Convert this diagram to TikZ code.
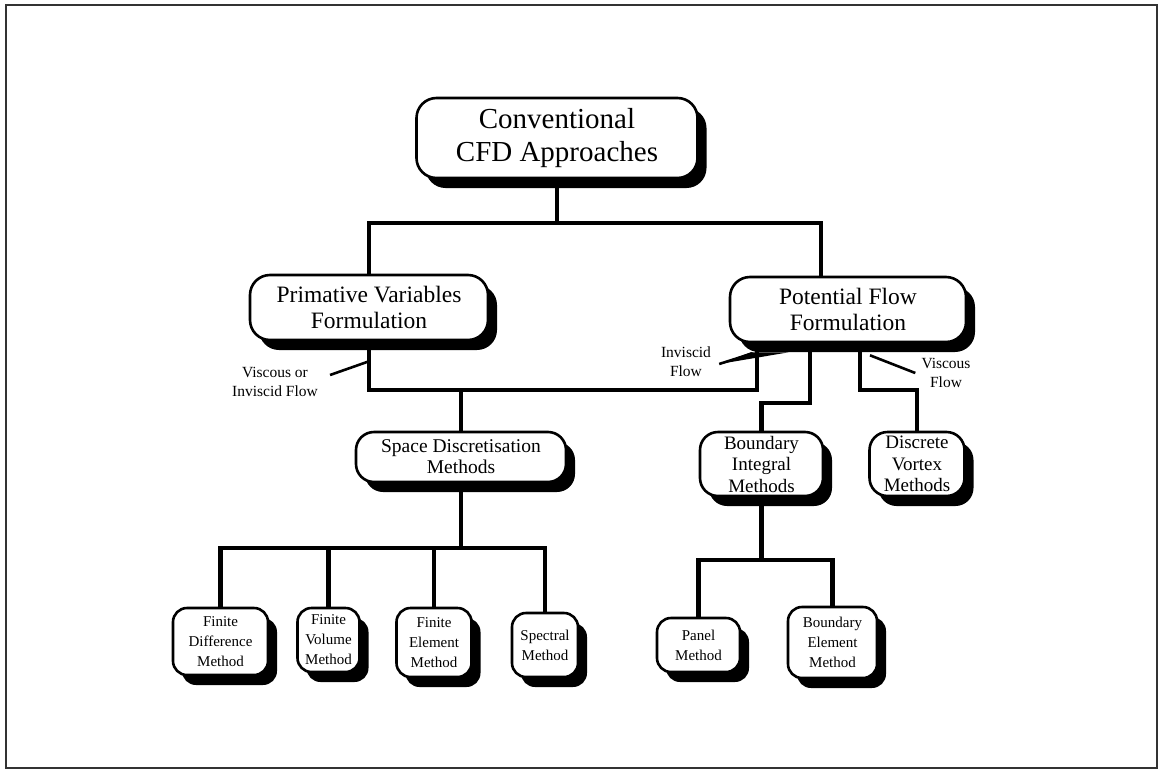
\documentclass[tikz,border=0pt]{standalone}
\usepackage{fontspec}
\setmainfont{Liberation Serif}
\usetikzlibrary{shadows,calc}
\begin{document}
\begin{tikzpicture}[x=1pt,y=-1pt,
  box/.style={draw=black, line width=2.6pt, rounded corners=#1, fill=white,
    align=center, inner sep=0pt,
    drop shadow={shadow xshift=9pt, shadow yshift=-10pt, opacity=1, fill=black}},
  box/.default=16pt,
  bigtxt/.style={font=\fontsize{29}{33}\selectfont},
  midtxt/.style={font=\fontsize{23.5}{26}\selectfont},
  smalltxt/.style={font=\fontsize{19}{21.5}\selectfont},
  leaftxt/.style={font=\fontsize{15}{20}\selectfont},
  conn/.style={line width=4.2pt, line cap=butt, line join=miter},
  pointer/.style={line width=2.6pt},
  lbl/.style={align=center, inner sep=0pt, font=\fontsize{15.5}{19}\selectfont},
]
\useasboundingbox (0,0) rectangle (1160,774);
\draw[line width=2.5pt, black!80] (6,5) rectangle (1157,768);

% boxes
\node[box=20pt, bigtxt, minimum width=281pt, minimum height=80pt] (top) at (557,138) {Conventional\\CFD Approaches};
\node[box=20pt, midtxt, minimum width=238pt, minimum height=65pt] (prim) at (369,307.5) {Primative Variables\\Formulation};
\node[box=20pt, midtxt, minimum width=236pt, minimum height=65pt] (pot) at (848,309.5) {Potential Flow\\Formulation};
\node[box=18pt, font=\fontsize{19.5}{21}\selectfont, minimum width=210pt, minimum height=50pt] (space) at (461,457) {Space Discretisation\\Methods};
\node[box=18pt, smalltxt, minimum width=123pt, minimum height=64pt] (bim) at (761.5,464) {Boundary\\Integral\\Methods};
\node[box=18pt, smalltxt, minimum width=95pt, minimum height=64pt] (dvm) at (917,464) {Discrete\\Vortex\\Methods};

\node[box=14pt, leaftxt, minimum width=95pt, minimum height=67pt] (fdm) at (220.5,641.5) {Finite\\Difference\\Method};
\node[box=14pt, leaftxt, minimum width=62pt, minimum height=64pt] (fvm) at (328.5,640) {Finite\\Volume\\Method};
\node[box=14pt, leaftxt, minimum width=75pt, minimum height=69pt] (fem) at (434,642.5) {Finite\\Element\\Method};
\node[box=14pt, leaftxt, minimum width=66pt, minimum height=64pt] (spm) at (545,645) {Spectral\\Method};
\node[box=14pt, leaftxt, minimum width=83pt, minimum height=54pt] (pan) at (698.5,645) {Panel\\Method};
\node[box=14pt, leaftxt, minimum width=89pt, minimum height=71pt] (bem) at (832.5,642.5) {Boundary\\Element\\Method};

% levels of the horizontal bars
\coordinate (y1) at (0,223);
\coordinate (y2) at (0,390);
\coordinate (y3) at (0,403);
\coordinate (y5) at (0,548);
\coordinate (y6) at (0,560);

% attachment points off the box centres
\coordinate (pn)  at ([xshift=-27pt]pot.north);
\coordinate (ps1) at ([xshift=-91pt]pot.south);
\coordinate (ps2) at ([xshift=-38pt]pot.south);
\coordinate (ps3) at ([xshift=12pt]pot.south);

% connectors
\draw[conn] (top.south) -- (top.south |- y1);
\draw[conn] (prim.north) -- (prim.north |- y1) -- (pn |- y1) -- (pn);

\draw[conn] (prim.south) -- (prim.south |- y2) -- (ps1 |- y2) -- (ps1);
\draw[conn] (space.north) -- (space.north |- y2);

\draw[conn] (ps2) -- (ps2 |- y3) -- (bim.north |- y3) -- (bim.north);
\draw[conn] (ps3) -- (ps3 |- y2) -- (dvm.north |- y2) -- (dvm.north);

\draw[conn] (space.south) -- (space.south |- y5);
\draw[conn] (fdm.north) -- (fdm.north |- y5) -- (spm.north |- y5) -- (spm.north);
\draw[conn] (fvm.north) -- (fvm.north |- y5);
\draw[conn] (fem.north) -- (fem.north |- y5);

\draw[conn] (bim.south) -- (bim.south |- y6);
\draw[conn] (pan.north) -- (pan.north |- y6) -- (bem.north |- y6) -- (bem.north);

% flow-type labels
\node[lbl] (lv) at (275,382) {Viscous or\\Inviscid Flow};
\draw[pointer] ($(lv.east)+(12,-7)$) -- ($(prim.south)+(0,20)$);

\node[lbl] (li) at (686,362) {Inviscid\\Flow};
\fill ($(li.east)+(8,2)$) -- ($(pot.south west)+(22,9)$) -- ($(pot.south west)+(60,9)$) -- cycle;
\draw[pointer] ($(li.east)+(8,2)$) -- ($(pot.south west)+(24,10)$);

\node[lbl] (lvf) at (946,373) {Viscous\\Flow};
\draw[pointer] ($(pot.south)+(22,12)$) -- ($(lvf.west)+(-6,0)$);
\end{tikzpicture}
\end{document}
